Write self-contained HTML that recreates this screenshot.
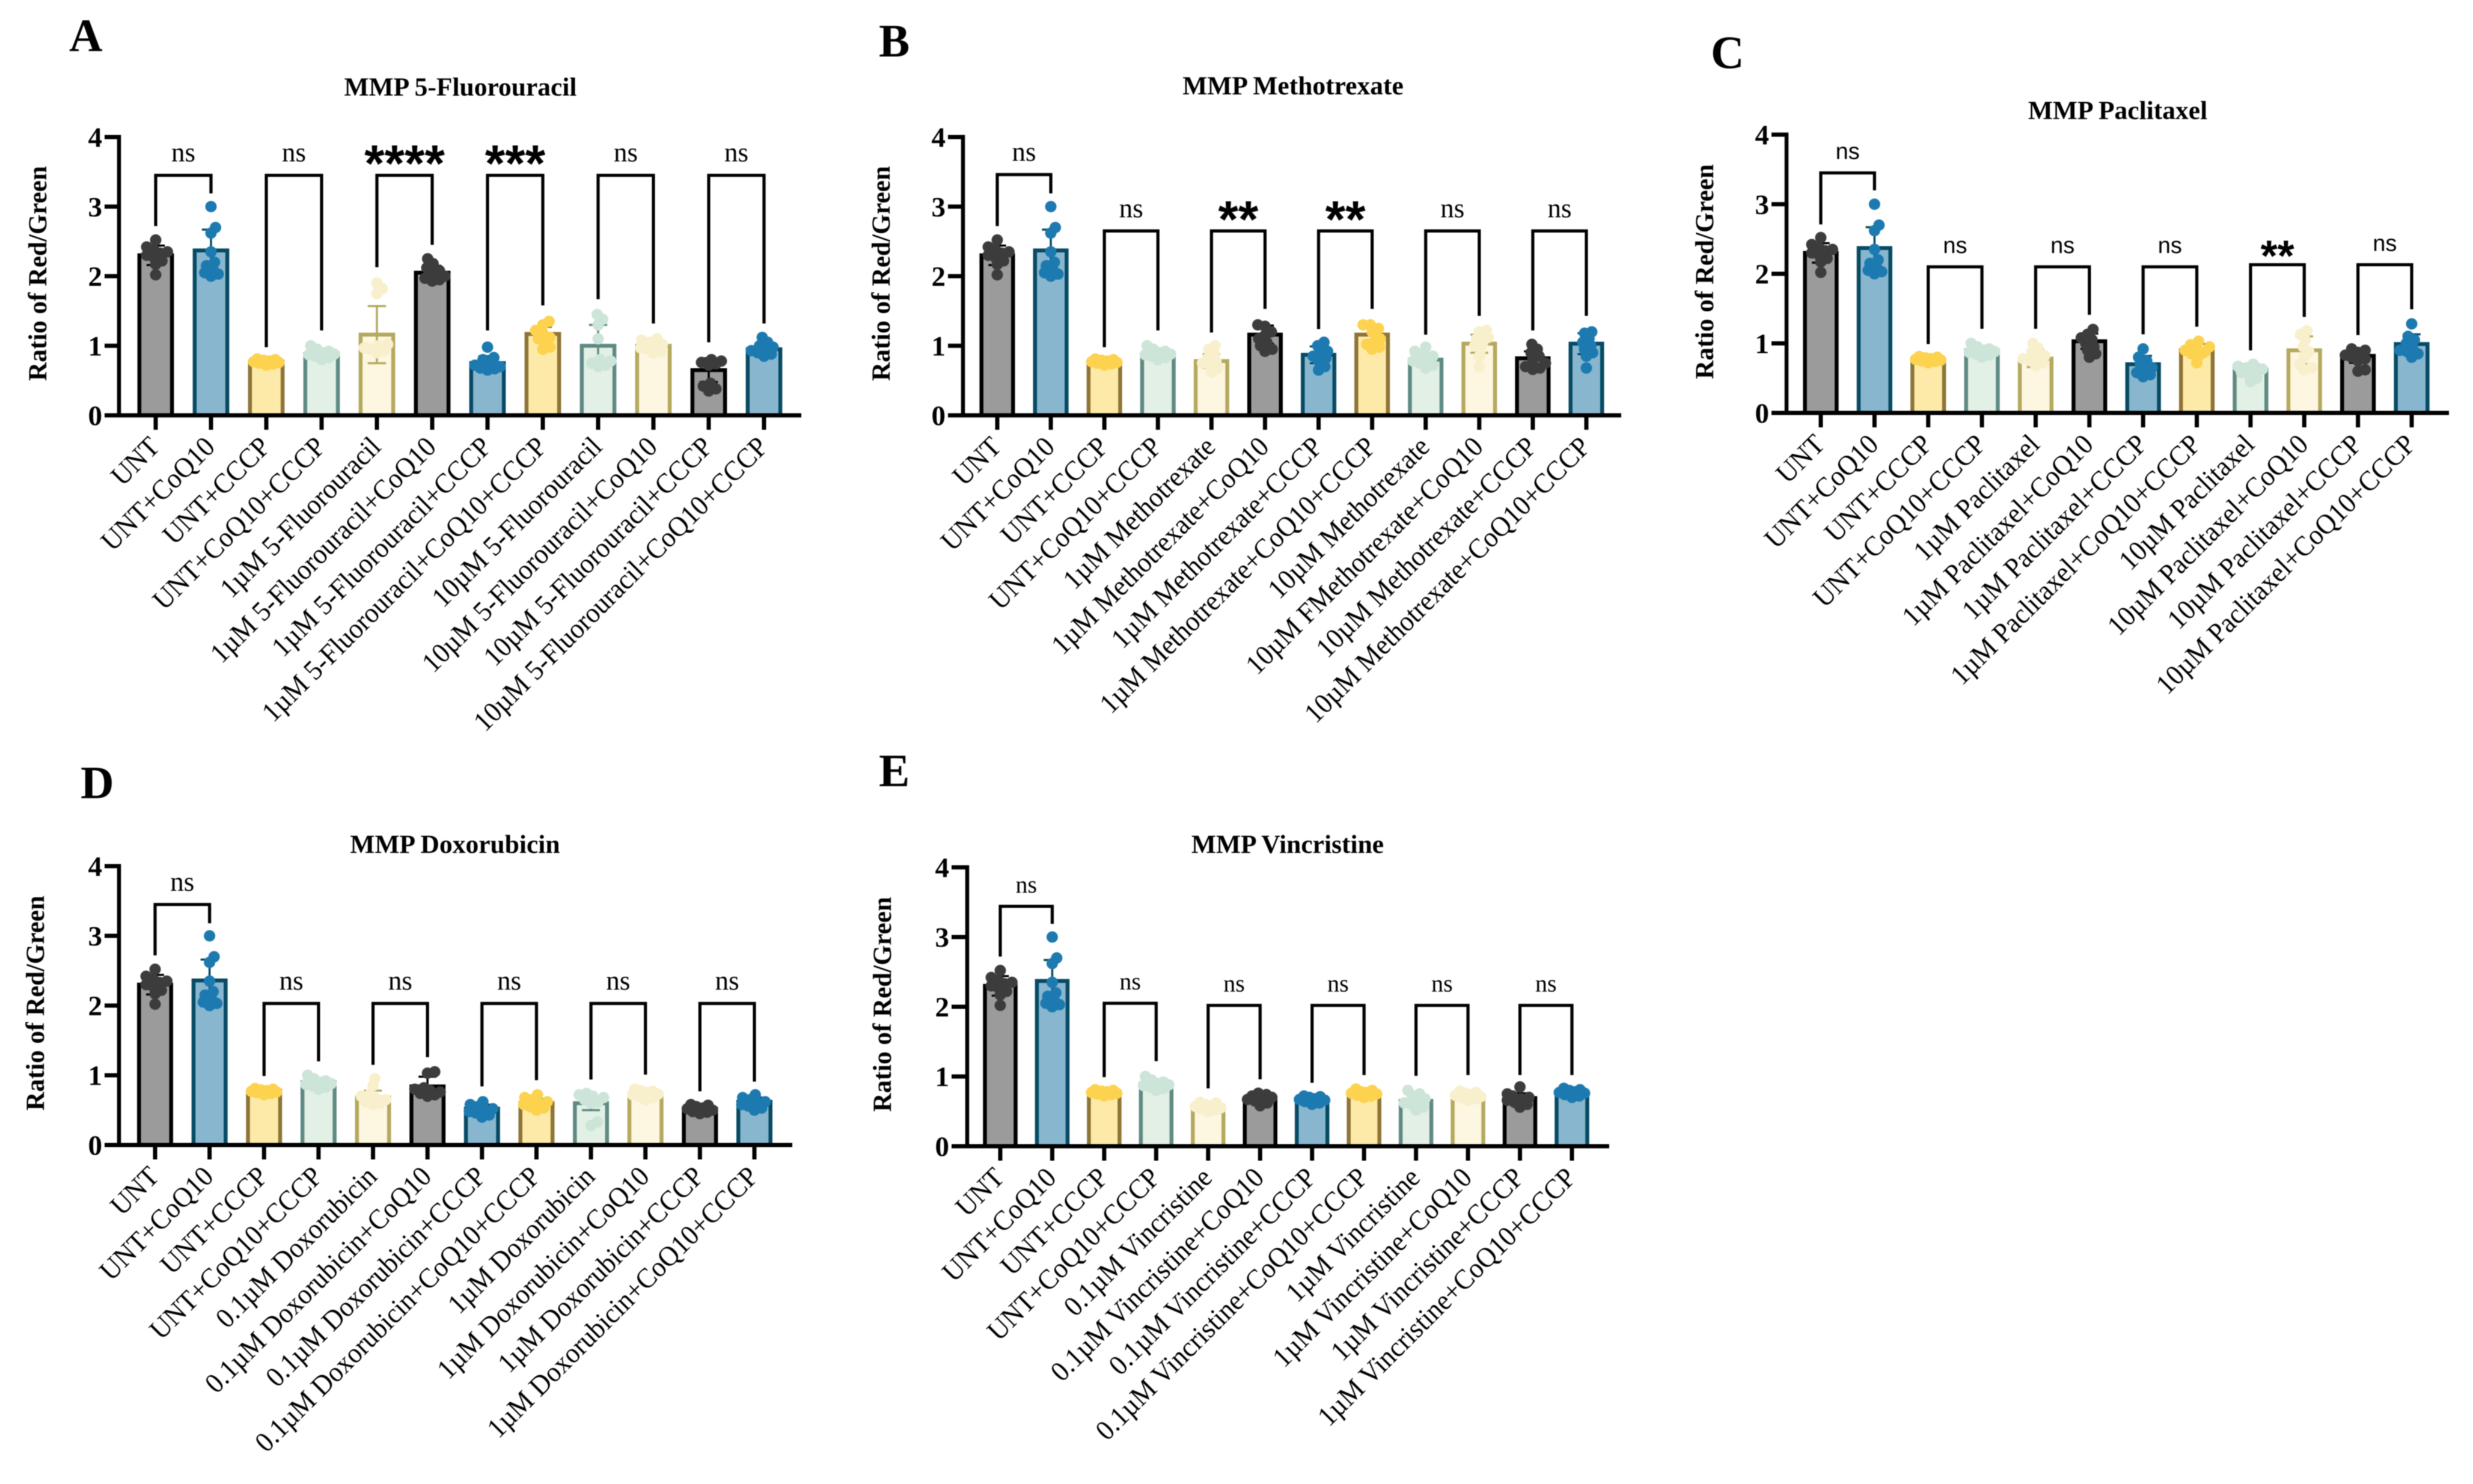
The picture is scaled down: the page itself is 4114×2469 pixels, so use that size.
<!DOCTYPE html>
<html lang="en">
<head>
<meta charset="utf-8">
<title>MMP ratio of Red/Green panels</title>
<style>
html,body{margin:0;padding:0;background:#fff;}
svg{display:block;font-family:"Liberation Serif",serif;filter:blur(0.8px);}
.letter{font-size:77px;font-weight:700;fill:#000;}
.title{font-size:43.5px;font-weight:700;fill:#000;text-anchor:middle;}
.ytitle{font-size:43px;font-weight:700;fill:#000;text-anchor:middle;}
.ytick{font-size:47px;font-weight:700;fill:#000;text-anchor:end;}
.xtick{font-size:47px;fill:#000;text-anchor:end;}
</style>
</head>
<body>
<svg id="figure" xmlns="http://www.w3.org/2000/svg" width="4114" height="2469" viewBox="0 0 4114 2469">
  <rect width="4114" height="2469" fill="#fff"/>

  <g id="panel-a">
    <text class="letter" x="115" y="85">A</text>
    <text class="title" x="766" y="159">MMP 5-Fluorouracil</text>
    <text class="ytitle" transform="translate(77 455) rotate(-90)">Ratio of Red/Green</text>
  </g>
  <g id="panel-b">
    <text class="letter" x="1462" y="94">B</text>
    <text class="title" x="2151" y="157">MMP Methotrexate</text>
    <text class="ytitle" transform="translate(1480 455) rotate(-90)">Ratio of Red/Green</text>
  </g>
  <g id="panel-c">
    <text class="letter" x="2846" y="113">C</text>
    <text class="title" x="3523" y="198">MMP Paclitaxel</text>
    <text class="ytitle" transform="translate(2850 452) rotate(-90)">Ratio of Red/Green</text>
  </g>
  <g id="panel-d">
    <text class="letter" x="134" y="1328">D</text>
    <text class="title" x="757" y="1419">MMP Doxorubicin</text>
    <text class="ytitle" transform="translate(73 1669) rotate(-90)">Ratio of Red/Green</text>
  </g>
  <g id="panel-e">
    <text class="letter" x="1462" y="1308">E</text>
    <text class="title" x="2142" y="1419">MMP Vincristine</text>
    <text class="ytitle" transform="translate(1482 1671) rotate(-90)">Ratio of Red/Green</text>
  </g>
</svg>

<script>
// ---------- shared tick labels ----------
const yTickValues = [0, 1, 2, 3, 4];

// ---------- categories ----------
const categoriesA = ["UNT","UNT+CoQ10","UNT+CCCP","UNT+CoQ10+CCCP","1µM 5-Fluorouracil","1µM 5-Fluorouracil+CoQ10","1µM 5-Fluorouracil+CCCP","1µM 5-Fluorouracil+CoQ10+CCCP","10µM 5-Fluorouracil","10µM 5-Fluorouracil+CoQ10","10µM 5-Fluorouracil+CCCP","10µM 5-Fluorouracil+CoQ10+CCCP"];
const categoriesB = ["UNT","UNT+CoQ10","UNT+CCCP","UNT+CoQ10+CCCP","1µM Methotrexate","1µM Methotrexate+CoQ10","1µM Methotrexate+CCCP","1µM Methotrexate+CoQ10+CCCP","10µM Methotrexate","10µM FMethotrexate+CoQ10","10µM Methotrexate+CCCP","10µM Methotrexate+CoQ10+CCCP"];
const categoriesC = ["UNT","UNT+CoQ10","UNT+CCCP","UNT+CoQ10+CCCP","1µM Paclitaxel","1µM Paclitaxel+CoQ10","1µM Paclitaxel+CCCP","1µM Paclitaxel+CoQ10+CCCP","10µM Paclitaxel","10µM Paclitaxel+CoQ10","10µM Paclitaxel+CCCP","10µM Paclitaxel+CoQ10+CCCP"];
const categoriesD = ["UNT","UNT+CoQ10","UNT+CCCP","UNT+CoQ10+CCCP","0.1µM Doxorubicin","0.1µM Doxorubicin+CoQ10","0.1µM Doxorubicin+CCCP","0.1µM Doxorubicin+CoQ10+CCCP","1µM Doxorubicin","1µM Doxorubicin+CoQ10","1µM Doxorubicin+CCCP","1µM Doxorubicin+CoQ10+CCCP"];
const categoriesE = ["UNT","UNT+CoQ10","UNT+CCCP","UNT+CoQ10+CCCP","0.1µM Vincristine","0.1µM Vincristine+CoQ10","0.1µM Vincristine+CCCP","0.1µM Vincristine+CoQ10+CCCP","1µM Vincristine","1µM Vincristine+CoQ10","1µM Vincristine+CCCP","1µM Vincristine+CoQ10+CCCP"];

// ---------- bar means ----------
const meansA = [2.30,2.37,0.77,0.88,1.16,2.05,0.75,1.17,1.00,1.00,0.65,0.95];
const meansB = [2.30,2.37,0.77,0.88,0.78,1.16,0.87,1.16,0.80,1.03,0.82,1.03];
const meansC = [2.30,2.37,0.77,0.90,0.78,1.03,0.70,0.90,0.62,0.90,0.82,0.99];
const meansD = [2.30,2.36,0.78,0.90,0.68,0.84,0.52,0.60,0.60,0.73,0.52,0.62];
const meansE = [2.30,2.37,0.78,0.90,0.58,0.69,0.67,0.76,0.65,0.73,0.69,0.78];

// ---------- standard deviations ----------
const sdA = [0.14,0.30,0.03,0.05,0.41,0.10,0.10,0.10,0.30,0.06,0.17,0.06];
const sdB = [0.14,0.30,0.03,0.05,0.10,0.13,0.12,0.12,0.08,0.13,0.10,0.15];
const sdC = [0.14,0.30,0.03,0.05,0.12,0.11,0.12,0.09,0.08,0.20,0.10,0.14];
const sdD = [0.14,0.30,0.03,0.06,0.10,0.14,0.06,0.06,0.10,0.05,0.04,0.06];
const sdE = [0.14,0.30,0.03,0.06,0.04,0.05,0.03,0.03,0.08,0.04,0.07,0.03];

// ---------- replicate points ----------
const pointsUnt = [2.02,2.17,2.22,2.27,2.30,2.33,2.35,2.38,2.42,2.52];
const pointsUntCoq = [2.00,2.03,2.05,2.10,2.15,2.20,2.35,2.62,2.70,3.00];
const pointsUntCccp = [0.72,0.74,0.75,0.76,0.77,0.78,0.79,0.80,0.81];
const pointsUntCoqCccp = [0.80,0.83,0.85,0.87,0.88,0.90,0.92,0.95,1.00];

const pointsA = [pointsUnt,pointsUntCoq,pointsUntCccp,pointsUntCoqCccp,
  [0.90,0.93,0.95,0.97,1.00,1.02,1.75,1.82,1.90],
  [1.93,1.95,1.97,2.00,2.05,2.08,2.12,2.18,2.25],
  [0.65,0.67,0.68,0.70,0.72,0.75,0.80,0.83,0.98],
  [0.95,0.98,1.05,1.10,1.12,1.18,1.22,1.30,1.35],
  [0.70,0.72,0.75,0.78,0.80,1.10,1.30,1.38,1.45],
  [0.90,0.92,0.95,0.97,1.00,1.02,1.05,1.08,1.10],
  [0.35,0.38,0.42,0.46,0.72,0.74,0.76,0.78,0.80],
  [0.85,0.88,0.90,0.93,0.95,0.98,1.00,1.05,1.12]];
const pointsB = [pointsUnt,pointsUntCoq,pointsUntCccp,pointsUntCoqCccp,
  [0.62,0.68,0.72,0.75,0.78,0.82,0.88,0.95,1.00],
  [0.92,0.95,1.00,1.05,1.10,1.15,1.20,1.28,1.30],
  [0.65,0.70,0.78,0.82,0.85,0.90,0.92,1.00,1.05],
  [0.95,0.98,1.02,1.05,1.10,1.20,1.25,1.30,1.30],
  [0.68,0.72,0.75,0.78,0.80,0.85,0.88,0.92,0.98],
  [0.70,0.85,0.95,1.00,1.05,1.10,1.12,1.20,1.22],
  [0.66,0.68,0.70,0.75,0.80,0.85,0.90,0.95,1.02],
  [0.68,0.85,0.90,0.95,1.00,1.05,1.10,1.18,1.20]];
const pointsC = [pointsUnt,pointsUntCoq,pointsUntCccp,pointsUntCoqCccp,
  [0.68,0.72,0.75,0.78,0.80,0.82,0.88,0.93,1.00],
  [0.80,0.85,0.90,0.95,1.00,1.05,1.08,1.13,1.20],
  [0.52,0.55,0.58,0.62,0.65,0.70,0.75,0.80,0.92],
  [0.72,0.82,0.85,0.88,0.90,0.93,0.95,0.98,1.03],
  [0.45,0.50,0.55,0.58,0.60,0.63,0.65,0.67,0.70],
  [0.62,0.65,0.70,0.80,0.88,0.95,1.05,1.13,1.18],
  [0.60,0.62,0.75,0.78,0.80,0.83,0.87,0.90,0.92],
  [0.80,0.85,0.88,0.90,0.95,1.00,1.05,1.10,1.28]];
const pointsD = [pointsUnt,pointsUntCoq,pointsUntCccp,pointsUntCoqCccp,
  [0.58,0.60,0.62,0.65,0.67,0.70,0.72,0.85,0.95],
  [0.70,0.72,0.74,0.76,0.78,0.80,0.82,1.03,1.05],
  [0.40,0.43,0.46,0.48,0.50,0.52,0.55,0.58,0.62],
  [0.50,0.53,0.55,0.58,0.60,0.62,0.65,0.68,0.72],
  [0.28,0.33,0.60,0.62,0.65,0.68,0.70,0.72,0.74],
  [0.65,0.68,0.70,0.72,0.73,0.75,0.77,0.78,0.80],
  [0.45,0.47,0.48,0.50,0.52,0.53,0.55,0.57,0.58],
  [0.50,0.53,0.56,0.58,0.60,0.62,0.65,0.68,0.72]];
const pointsE = [pointsUnt,pointsUntCoq,pointsUntCccp,pointsUntCoqCccp,
  [0.50,0.52,0.54,0.55,0.57,0.58,0.60,0.62,0.63],
  [0.58,0.62,0.65,0.67,0.68,0.70,0.72,0.74,0.76],
  [0.60,0.62,0.64,0.66,0.67,0.68,0.70,0.71,0.72],
  [0.70,0.72,0.73,0.75,0.76,0.77,0.78,0.80,0.82],
  [0.52,0.56,0.60,0.62,0.65,0.68,0.72,0.75,0.80],
  [0.66,0.68,0.70,0.71,0.73,0.74,0.76,0.77,0.79],
  [0.56,0.60,0.63,0.66,0.68,0.70,0.72,0.75,0.85],
  [0.70,0.72,0.74,0.76,0.77,0.78,0.80,0.81,0.83]];

// ---------- significance labels ----------
const sigA = ["ns","ns","****","***","ns","ns"];
const sigB = ["ns","ns","**","**","ns","ns"];
const sigC = ["ns","ns","ns","ns","**","ns"];
const sigD = ["ns","ns","ns","ns","ns","ns"];
const sigE = ["ns","ns","ns","ns","ns","ns"];

// ---------- bracket levels, in axis units ----------
const bracketTopA = [3.45,3.45,3.45,3.45,3.45,3.45];
const bracketLeftA = [2.72,0.98,2.13,1.22,1.67,1.05];
const bracketRightA = [3.19,1.22,2.45,1.58,1.32,1.32];
const bracketTopB = [3.46,2.65,2.65,2.65,2.65,2.65];
const bracketLeftB = [2.72,0.98,1.19,1.24,1.16,1.22];
const bracketRightB = [3.19,1.22,1.53,1.53,1.43,1.43];
const bracketTopC = [3.45,2.10,2.10,2.10,2.13,2.13];
const bracketLeftC = [2.71,0.99,1.21,1.13,0.90,1.12];
const bracketRightC = [3.20,1.21,1.41,1.24,1.38,1.49];
const bracketTopD = [3.45,2.03,2.03,2.03,2.03,2.03];
const bracketLeftD = [2.72,0.99,1.15,0.84,0.94,0.77];
const bracketRightD = [3.18,1.20,1.26,0.93,1.01,0.91];
const bracketTopE = [3.44,2.05,2.02,2.02,2.02,2.02];
const bracketLeftE = [2.72,0.99,0.83,0.91,1.01,1.02];
const bracketRightE = [3.19,1.22,0.96,1.02,1.02,1.02];

// ---------- appearance per bar position ----------
const barFills = ["#9b9b9b","#88b6cf","#fdeaa9","#e2f0e5","#fdf6e0","#9b9b9b","#88b6cf","#fdeaa9","#e2f0e5","#fdf6e0","#9b9b9b","#88b6cf"];
const barStrokes = ["#000000","#074a64","#8e7436","#5f8a84","#b5a95e","#000000","#074a64","#8e7436","#5f8a84","#b5a95e","#000000","#074a64"];
const pointFills = ["#3c3c3c","#1c7ab0","#fcd24f","#cce5d8","#f8efcc","#3c3c3c","#1c7ab0","#fcd24f","#cce5d8","#f8efcc","#3c3c3c","#1c7ab0"];

// ---------- panel layout ----------
const panels = [
  {id:"a", axisX:198,  y0:691,  y4:228,  firstTick:259,  lastTick:1271, lineStart:174,  lineEnd:1333, cats:categoriesA, means:meansA, sd:sdA, pts:pointsA, sig:sigA, top:bracketTopA, left:bracketLeftA, right:bracketRightA, nsFont:"Liberation Serif", nsSize:45, starSize:86},
  {id:"b", axisX:1602, y0:691,  y4:228,  firstTick:1659, lastTick:2639, lineStart:1577, lineEnd:2697, cats:categoriesB, means:meansB, sd:sdB, pts:pointsB, sig:sigB, top:bracketTopB, left:bracketLeftB, right:bracketRightB, nsFont:"Liberation Serif", nsSize:45, starSize:86},
  {id:"c", axisX:2972, y0:687,  y4:224,  firstTick:3029, lastTick:4012, lineStart:2947, lineEnd:4074, cats:categoriesC, means:meansC, sd:sdC, pts:pointsC, sig:sigC, top:bracketTopC, left:bracketLeftC, right:bracketRightC, nsFont:"Liberation Sans",  nsSize:38, starSize:72},
  {id:"d", axisX:198,  y0:1905, y4:1441, firstTick:258,  lastTick:1255, lineStart:174,  lineEnd:1318, cats:categoriesD, means:meansD, sd:sdD, pts:pointsD, sig:sigD, top:bracketTopD, left:bracketLeftD, right:bracketRightD, nsFont:"Liberation Serif", nsSize:45, starSize:86},
  {id:"e", axisX:1609, y0:1907, y4:1443, firstTick:1664, lastTick:2615, lineStart:1583, lineEnd:2677, cats:categoriesE, means:meansE, sd:sdE, pts:pointsE, sig:sigE, top:bracketTopE, left:bracketLeftE, right:bracketRightE, nsFont:"Liberation Serif", nsSize:40, starSize:86}
];

const SVG_NS = "http://www.w3.org/2000/svg";
const POINT_R = 9.5;
const SWARM_LIMIT = 21;

function make(tag, attrs, parent) {
  const el = document.createElementNS(SVG_NS, tag);
  for (const k in attrs) el.setAttribute(k, attrs[k]);
  parent.appendChild(el);
  return el;
}

// Horizontal spread for replicate points, kept inside the bar width.
// Points overlap once the column is full, as they do in the source figure.
function swarm(values, yOf) {
  const placed = [];
  const minDist = POINT_R * 1.25;
  const candidates = [];
  for (let d = 0; d <= SWARM_LIMIT; d += 1.5) {
    candidates.push(d);
    if (d > 0) candidates.push(-d);
  }
  values.slice().sort(function (a, b) { return a - b; }).forEach(function (v) {
    const py = yOf(v);
    let bestDx = 0;
    let bestGap = -1;
    for (let c = 0; c < candidates.length; c++) {
      const dx = candidates[c];
      let gap = Infinity;
      placed.forEach(function (p) { gap = Math.min(gap, Math.hypot(p.dx - dx, p.py - py)); });
      if (gap >= minDist) { bestDx = dx; bestGap = gap; break; }
      if (gap > bestGap) { bestDx = dx; bestGap = gap; }
    }
    placed.push({dx: bestDx, py: py});
  });
  return placed;
}

panels.forEach(function (p) {
  const root = document.getElementById("panel-" + p.id);
  const n = p.cats.length;
  const spacing = (p.lastTick - p.firstTick) / (n - 1);
  const barW = spacing * 0.59;
  const yOf = function (v) { return p.y0 - (v / 4) * (p.y0 - p.y4); };
  const xOf = function (i) { return p.firstTick + i * spacing; };

  // Bars, error bars, then replicate points on top
  p.means.forEach(function (m, i) {
    const bar = make("rect", {x: xOf(i) - barW / 2, y: yOf(m), width: barW, height: p.y0 - yOf(m), fill: barFills[i], stroke: barStrokes[i], "stroke-width": 6.5}, root);
    
    

    const hi = yOf(m + p.sd[i]);
    const lo = yOf(m - p.sd[i]);
    const cap = spacing * 0.165;
    const err = make("path", {d: "M" + (xOf(i) - cap) + " " + hi + "H" + (xOf(i) + cap) + "M" + xOf(i) + " " + hi + "V" + lo + "M" + (xOf(i) - cap) + " " + lo + "H" + (xOf(i) + cap), fill: "none", stroke: barStrokes[i], "stroke-width": 3.5}, root);
    
    

    swarm(p.pts[i], yOf).forEach(function (pt) {
      const dot = make("circle", {cx: xOf(i) + pt.dx, cy: pt.py, r: POINT_R, fill: pointFills[i]}, root);
      
      
    });
  });

  // Y axis
  const yAxis = make("line", {x1: p.axisX, x2: p.axisX, y1: p.y4 - 3.5, y2: p.y0 + 3.5, stroke: "#000", "stroke-width": 6.5}, root);
  
  
  yTickValues.forEach(function (v) {
    const tick = make("line", {x1: p.lineStart, x2: p.axisX, y1: yOf(v), y2: yOf(v), stroke: "#000", "stroke-width": 7}, root);
    
    
    const label = make("text", {class: "ytick", x: p.lineStart - 4, y: yOf(v) + 16}, root);
    label.textContent = String(v);
    
    
  });

  // X axis
  const xAxis = make("line", {x1: p.lineStart, x2: p.lineEnd, y1: p.y0, y2: p.y0, stroke: "#000", "stroke-width": 7}, root);
  
  
  p.cats.forEach(function (c, i) {
    const tick = make("line", {x1: xOf(i), x2: xOf(i), y1: p.y0, y2: p.y0 + 24, stroke: "#000", "stroke-width": 7}, root);
    
    
    const label = make("text", {class: "xtick", transform: "translate(" + (xOf(i) + 9) + " " + (p.y0 + 55) + ") rotate(-45) scale(0.945 1)"}, root);
    label.textContent = c;
    
    
  });

  // Significance brackets
  p.sig.forEach(function (s, k) {
    const xl = xOf(2 * k);
    const xr = xOf(2 * k + 1);
    const top = yOf(p.top[k]);
    const br = make("path", {d: "M" + xl + " " + yOf(p.left[k]) + "V" + top + "H" + xr + "V" + yOf(p.right[k]), fill: "none", stroke: "#000", "stroke-width": 5.2}, root);
    
    
    const isNs = s === "ns";
    const attrs = isNs
      ? {x: (xl + xr) / 2, y: top - 23, "text-anchor": "middle", "font-family": p.nsFont, "font-size": p.nsSize, fill: "#000"}
      : {x: (xl + xr) / 2, y: top + 10, "text-anchor": "middle", "font-family": "Liberation Sans", "font-weight": 700, "font-size": p.starSize, fill: "#000"};
    const t = make("text", attrs, root);
    t.textContent = s;
    
    
  });
});
</script>
</body>
</html>
